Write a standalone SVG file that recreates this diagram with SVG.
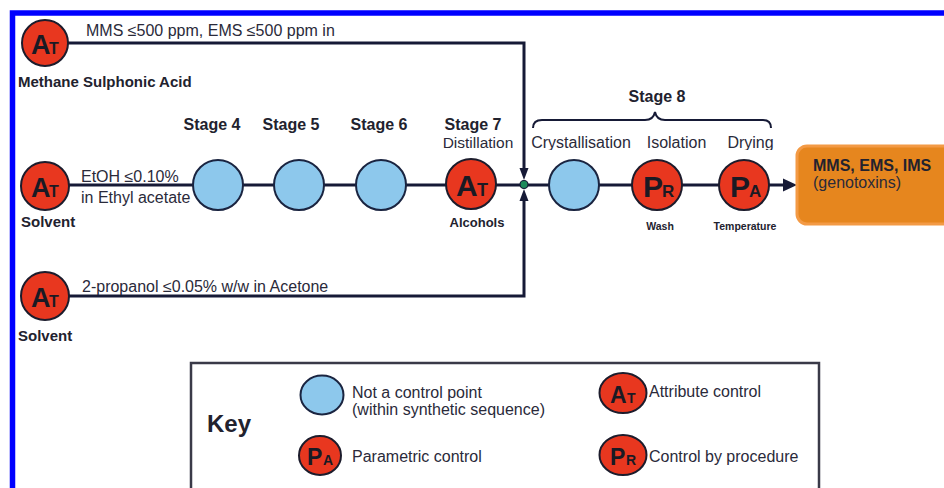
<svg xmlns="http://www.w3.org/2000/svg" width="944" height="488" viewBox="0 0 944 488">
<defs>
<style>
.ln{stroke:#161a36;stroke-width:3;fill:none}
.red{fill:#e8371f;stroke:#1c1c2c;stroke-width:2}
.blue{fill:#8dc8ec;stroke:#1a2440;stroke-width:2}
.t{font-family:"Liberation Sans",Arial,sans-serif;fill:#2a2a3a}
.b{font-weight:bold;fill:#22222e}
.big{font-family:"Liberation Sans",Arial,sans-serif;font-weight:bold;fill:#1a1a24}
</style>
<clipPath id="clipTop"><rect x="0" y="0" width="944" height="150"/></clipPath>
</defs>
<rect width="944" height="488" fill="#ffffff"/>
<path d="M12.5,488 V13 H944" fill="none" stroke="#0000ff" stroke-width="5.5"/>

<g id="connectors">
<path class="ln" d="M60,43 H524 V170"/>
<path class="ln" d="M60,296 H524 V198"/>
<path class="ln" d="M60,185 H786"/>
<polygon points="519.5,168 528.5,168 524,180" fill="#161a36"/>
<polygon points="519.5,201 528.5,201 524,189" fill="#161a36"/>
<polygon points="783,178.5 797,185 783,191.5" fill="#161a36"/>
<circle cx="524" cy="184.5" r="4" fill="#1c8a5a" stroke="#161a36" stroke-width="1.2"/>
</g>

<g id="n_msa">
<circle class="red" cx="45" cy="43" r="23"/>
<text class="big" x="31" y="54" font-size="27">A</text><text class="big" x="49" y="54" font-size="16">T</text>
<text class="t" x="86" y="36" font-size="16">MMS ≤500 ppm, EMS ≤500 ppm in</text>
<text class="t b" x="18" y="87" font-size="15">Methane Sulphonic Acid</text>
</g>

<g id="n_solvent1">
<circle class="red" cx="45" cy="186" r="24"/>
<text class="big" x="31" y="197" font-size="27">A</text><text class="big" x="49" y="197" font-size="16">T</text>
<text class="t" x="81" y="182" font-size="16">EtOH ≤0.10%</text>
<text class="t" x="81" y="203" font-size="16">in Ethyl acetate</text>
<text class="t b" x="21" y="227" font-size="15">Solvent</text>
</g>

<g id="n_solvent2">
<circle class="red" cx="45" cy="296" r="24"/>
<text class="big" x="31" y="307" font-size="27">A</text><text class="big" x="49" y="307" font-size="16">T</text>
<text class="t" x="82" y="292" font-size="16">2-propanol ≤0.05% w/w in Acetone</text>
<text class="t b" x="18" y="341" font-size="15">Solvent</text>
</g>

<g id="n_stage4">
<circle class="blue" cx="218" cy="185" r="25"/>
<text class="t b" x="212" y="130" font-size="16" text-anchor="middle">Stage 4</text>
</g>
<g id="n_stage5">
<circle class="blue" cx="299" cy="185" r="25"/>
<text class="t b" x="291" y="130" font-size="16" text-anchor="middle">Stage 5</text>
</g>
<g id="n_stage6">
<circle class="blue" cx="381" cy="185" r="25"/>
<text class="t b" x="379" y="130" font-size="16" text-anchor="middle">Stage 6</text>
</g>
<g id="n_stage7">
<circle class="red" cx="471" cy="184" r="25"/>
<text class="big" x="456" y="196" font-size="30">A</text><text class="big" x="477" y="196" font-size="18">T</text>
<text class="t b" x="473" y="130" font-size="16" text-anchor="middle">Stage 7</text>
<text class="t" x="478" y="148" text-anchor="middle" font-size="15.5">Distillation</text>
<text class="t b" x="477" y="227" font-size="13" text-anchor="middle">Alcohols</text>
</g>

<g id="n_stage8">
<text class="t b" x="657" y="102" font-size="16" text-anchor="middle">Stage 8</text>
<path d="M533,128 C533,123 536,120 542,120 H645 C651,120 654,117 655,112 C656,117 659,120 665,120 H763 C769,120 771,123 771,128" fill="none" stroke="#161a36" stroke-width="2"/>
<g clip-path="url(#clipTop)">
<text class="t" x="581" y="148" font-size="16" text-anchor="middle">Crystallisation</text>
<text class="t" x="676.5" y="148" font-size="16" text-anchor="middle">Isolation</text>
<text class="t" x="750.5" y="148" font-size="16" text-anchor="middle">Drying</text>
</g>
</g>
<g id="n_cryst">
<circle class="blue" cx="574" cy="185" r="25"/>
</g>
<g id="n_isolation">
<circle class="red" cx="657" cy="185" r="25"/>
<text class="big" x="643" y="197" font-size="30">P</text><text class="big" x="662" y="197" font-size="17">R</text>
<text class="t b" x="660" y="230" font-size="10.5" text-anchor="middle">Wash</text>
</g>
<g id="n_drying">
<circle class="red" cx="744" cy="185" r="25"/>
<text class="big" x="730" y="197" font-size="30">P</text><text class="big" x="749" y="197" font-size="17">A</text>
<text class="t b" x="745" y="230" font-size="10.5" text-anchor="middle">Temperature</text>
</g>

<g id="n_genotox">
<rect x="797" y="146" width="160" height="78" rx="10" fill="#e6861e" stroke="#f39a45" stroke-width="3"/>
<text class="t b" x="813" y="171" font-size="16" fill="#202028">MMS, EMS, IMS</text>
<text class="t" x="813" y="188" font-size="16">(genotoxins)</text>
</g>

<g id="key">
<rect x="191" y="363" width="628" height="140" fill="#ffffff" stroke="#3a3a48" stroke-width="2.5"/>
<text class="t b" x="207" y="432" font-size="24">Key</text>
<ellipse class="blue" cx="322" cy="395" rx="21.5" ry="19.5"/>
<text class="t" x="352" y="398" font-size="16">Not a control point</text>
<text class="t" x="352" y="415" font-size="16">(within synthetic sequence)</text>
<ellipse class="red" cx="623" cy="393" rx="23.5" ry="20"/>
<text class="big" x="610" y="403" font-size="23">A</text><text class="big" x="627" y="403" font-size="14">T</text>
<text class="t" x="649" y="397" font-size="16">Attribute control</text>
<ellipse class="red" cx="320" cy="455.5" rx="21" ry="19.5"/>
<text class="big" x="307" y="465" font-size="23">P</text><text class="big" x="323" y="465" font-size="14">A</text>
<text class="t" x="352" y="462" font-size="16">Parametric control</text>
<ellipse class="red" cx="623" cy="455" rx="23.5" ry="20"/>
<text class="big" x="610" y="465" font-size="23">P</text><text class="big" x="626" y="465" font-size="14">R</text>
<text class="t" x="649" y="462" font-size="16">Control by procedure</text>
</g>
</svg>
